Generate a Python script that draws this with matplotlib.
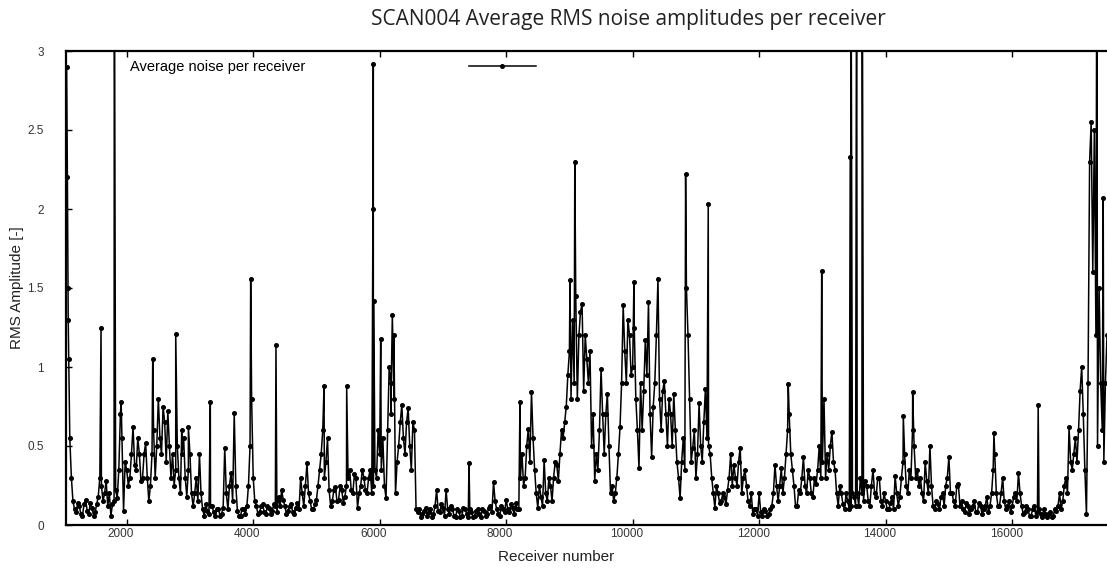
import numpy as np
import matplotlib
matplotlib.use("Agg")
import matplotlib.pyplot as plt
import matplotlib.transforms as mtransforms

# receiver grid every 50 receivers
band_rx = np.arange(1050, 17501, 50)
band_rms = [
    2.9, 0.55, 0.15, 0.08, 0.12, 0.06, 0.16, 0.07, 0.11, 0.08,
    0.18, 0.25, 0.2, 0.12, 0.06, 0.15, 0.17, 0.7, 0.09, 0.35,
    0.3, 0.62, 0.35, 0.45, 0.3, 0.52, 0.15, 0.45, 0.3, 0.8,
    0.45, 0.65, 0.72, 0.3, 0.25, 0.5, 0.2, 0.55, 0.18, 0.45,
    0.12, 0.3, 0.45, 0.1, 0.13, 0.07, 0.12, 0.06, 0.1, 0.07,
    0.49, 0.1, 0.33, 0.71, 0.09, 0.06, 0.1, 0.12, 0.5, 0.3,
    0.12, 0.08, 0.13, 0.07, 0.11, 0.09, 0.12, 0.18, 0.22, 0.12,
    0.09, 0.13, 0.07, 0.14, 0.3, 0.12, 0.39, 0.15, 0.1, 0.16,
    0.35, 0.6, 0.4, 0.22, 0.15, 0.24, 0.16, 0.22, 0.18, 0.3,
    0.22, 0.32, 0.11, 0.25, 0.3, 0.2, 0.35, 0.25, 0.3, 0.45,
    0.55, 0.17, 1.0, 1.33, 0.2, 0.5, 0.76, 0.45, 0.74, 0.35,
    0.6, 0.08, 0.05, 0.09, 0.06, 0.1, 0.07, 0.22, 0.08, 0.11,
    0.22, 0.07, 0.1, 0.05, 0.09, 0.06, 0.1, 0.05, 0.08, 0.06,
    0.1, 0.05, 0.09, 0.07, 0.12, 0.27, 0.1, 0.06, 0.1, 0.16,
    0.08, 0.11, 0.14, 0.1, 0.45, 0.3, 0.61, 0.84, 0.35, 0.11,
    0.18, 0.41, 0.15, 0.25, 0.3, 0.38, 0.45, 0.55, 0.75, 1.1,
    1.3, 1.45, 1.2, 1.4, 1.2, 0.9, 0.5, 0.28, 0.35, 0.99,
    0.45, 0.83, 0.2, 0.15, 0.3, 0.62, 1.39, 0.9, 1.2, 1.0,
    0.8, 0.36, 0.6, 1.17, 1.41, 0.43, 0.9, 1.56, 0.6, 0.91,
    0.5, 0.7, 0.83, 0.4, 0.17, 0.55, 1.5, 0.8, 0.49, 0.3,
    0.77, 0.4, 0.86, 0.5, 0.3, 0.11, 0.2, 0.15, 0.18, 0.22,
    0.45, 0.38, 0.25, 0.49, 0.3, 0.25, 0.12, 0.07, 0.1, 0.2,
    0.06, 0.09, 0.07, 0.12, 0.38, 0.15, 0.36, 0.3, 0.6, 0.45,
    0.25, 0.12, 0.2, 0.43, 0.2, 0.3, 0.18, 0.26, 0.5, 0.4,
    0.3, 0.35, 0.59, 0.35, 0.12, 0.2, 0.1, 0.15, 0.12, 0.18,
    0.2, 0.3, 0.15, 0.25, 0.12, 0.35, 0.18, 0.3, 0.12, 0.15,
    0.1, 0.18, 0.31, 0.12, 0.3, 0.45, 0.2, 0.3, 0.5, 0.35,
    0.3, 0.15, 0.28, 0.5, 0.12, 0.15, 0.1, 0.2, 0.25, 0.43,
    0.2, 0.12, 0.26, 0.15, 0.08, 0.12, 0.1, 0.15, 0.08, 0.12,
    0.1, 0.18, 0.12, 0.35, 0.2, 0.12, 0.3, 0.1, 0.15, 0.12,
    0.2, 0.33, 0.12, 0.08, 0.1, 0.06, 0.12, 0.08, 0.07, 0.1,
    0.05, 0.08, 0.06, 0.09, 0.2, 0.15, 0.3, 0.62, 0.35, 0.55,
    0.6, 1.0, 0.35, 0.9, 2.55, 2.5, 0.5, 0.9, 0.4, 1.2,
]

# in-between receivers (offset by 25), fill the dense band
mid_rx = np.arange(1075, 17476, 50)
mid_rms = [
    1.3, 0.3, 0.1, 0.14, 0.07, 0.13, 0.09, 0.14, 0.06, 0.13,
    0.3, 0.15, 0.28, 0.2, 0.13, 0.22, 0.35, 0.55, 0.4, 0.25,
    0.45, 0.38, 0.55, 0.28, 0.45, 0.3, 0.25, 0.6, 0.5, 0.55,
    0.75, 0.4, 0.5, 0.45, 0.35, 0.3, 0.45, 0.3, 0.35, 0.2,
    0.2, 0.15, 0.2, 0.06, 0.09, 0.12, 0.08, 0.1, 0.06, 0.11,
    0.2, 0.25, 0.15, 0.25, 0.06, 0.1, 0.07, 0.25, 0.8, 0.15,
    0.07, 0.12, 0.08, 0.12, 0.07, 0.13, 0.08, 0.12, 0.16, 0.07,
    0.12, 0.08, 0.11, 0.1, 0.2, 0.25, 0.2, 0.1, 0.13, 0.25,
    0.45, 0.3, 0.55, 0.12, 0.22, 0.15, 0.25, 0.14, 0.25, 0.35,
    0.2, 0.3, 0.2, 0.35, 0.22, 0.3, 0.2, 0.35, 0.6, 0.35,
    0.25, 0.6, 0.9, 0.8, 0.4, 0.65, 0.55, 0.65, 0.5, 0.65,
    0.1, 0.1, 0.07, 0.11, 0.08, 0.05, 0.12, 0.09, 0.13, 0.06,
    0.1, 0.12, 0.06, 0.1, 0.05, 0.11, 0.07, 0.1, 0.05, 0.09,
    0.07, 0.1, 0.06, 0.11, 0.08, 0.15, 0.07, 0.12, 0.08, 0.1,
    0.13, 0.07, 0.1, 0.3, 0.25, 0.5, 0.4, 0.55, 0.2, 0.25,
    0.12, 0.2, 0.3, 0.15, 0.4, 0.28, 0.6, 0.65, 0.95, 0.8,
    0.9, 0.8, 1.35, 0.85, 1.05, 1.1, 0.7, 0.45, 0.6, 0.7,
    0.7, 0.5, 0.25, 0.2, 0.45, 0.9, 1.1, 1.3, 0.95, 1.25,
    0.6, 0.9, 0.85, 0.95, 0.7, 0.75, 1.2, 0.8, 0.85, 0.7,
    0.8, 0.5, 0.6, 0.3, 0.4, 0.35, 1.2, 0.4, 0.6, 0.45,
    0.5, 0.65, 0.55, 0.45, 0.2, 0.25, 0.14, 0.2, 0.13, 0.3,
    0.25, 0.3, 0.4, 0.2, 0.35, 0.15, 0.2, 0.1, 0.06, 0.08,
    0.1, 0.06, 0.1, 0.2, 0.25, 0.25, 0.2, 0.45, 0.7, 0.35,
    0.12, 0.22, 0.3, 0.25, 0.35, 0.2, 0.3, 0.35, 0.3, 0.8,
    0.45, 0.5, 0.4, 0.2, 0.25, 0.13, 0.2, 0.1, 0.2, 0.12,
    0.12, 0.2, 0.28, 0.15, 0.25, 0.2, 0.3, 0.15, 0.2, 0.1,
    0.14, 0.1, 0.2, 0.18, 0.4, 0.25, 0.35, 0.6, 0.3, 0.25,
    0.2, 0.4, 0.2, 0.25, 0.1, 0.13, 0.18, 0.12, 0.3, 0.2,
    0.15, 0.25, 0.12, 0.1, 0.14, 0.07, 0.12, 0.08, 0.14, 0.07,
    0.12, 0.08, 0.2, 0.45, 0.12, 0.2, 0.15, 0.12, 0.08, 0.18,
    0.15, 0.2, 0.07, 0.12, 0.06, 0.1, 0.06, 0.1, 0.05, 0.07,
    0.07, 0.05, 0.1, 0.12, 0.1, 0.25, 0.2, 0.4, 0.45, 0.4,
    0.85, 0.7, 0.07, 2.3, 1.6, 1.2, 1.5, 0.6, 0.9,
]

# single receivers that stick out of the band
spike_rx = [1062, 1071, 1083, 1594, 1804, 1912, 2411, 2775, 2870, 2975,
            3322, 3960, 4360, 5120, 5478, 5893, 5899, 5906, 6016, 6175,
            6225, 7412, 8218, 9009, 9085, 10020, 10837, 11195, 12460, 12989,
            13440, 13451, 13541, 13629, 14279, 14427, 15712, 16412, 17340, 17440]
spike_rms = [2.2, 1.5, 1.05, 1.25, 4.0, 0.78, 1.05, 1.21, 0.60, 0.62,
             0.78, 1.56, 1.14, 0.88, 0.88, 2.0, 2.92, 1.42, 1.18, 0.7,
             1.2, 0.39, 0.78, 1.55, 2.3, 1.54, 2.22, 2.03, 0.89, 1.61,
             2.33, 4.0, 4.0, 4.0, 0.69, 0.84, 0.58, 0.76, 4.0, 2.07]

rx = np.concatenate([band_rx, mid_rx, spike_rx])
rms = np.concatenate([band_rms, mid_rms, spike_rms])
order = np.argsort(rx, kind="stable")
rx = rx[order]
rms = rms[order]

plt.rcParams['font.family'] = ['Liberation Sans', 'DejaVu Sans']

fig = plt.figure(figsize=(11.07, 5.69), dpi=100)
ax = fig.add_axes([66 / 1107, 1 - 525 / 569, 1 - 66 / 1107, (525 - 51) / 569])

ax.plot(rx, rms, color='black', lw=1.1, marker='o', ms=2.6,
        label='Average noise per receiver')

ax.set_xlim(1040, 17500)
ax.set_ylim(0, 3)
ax.set_xticks([2000, 4000, 6000, 8000, 10000, 12000, 14000, 16000])
ax.set_yticks([0, 0.5, 1, 1.5, 2, 2.5, 3])
ax.set_yticklabels(['0', '0.5', '1', '1.5', '2', '2.5', '3'])

ax.tick_params(axis='x', direction='in', top=True, length=4, width=1,
               labelsize=8.5, labelcolor='#333333', pad=2)
ax.tick_params(axis='y', direction='in', length=4, width=1,
               labelsize=8.5, labelcolor='#333333', pad=16)
for s in ['left', 'bottom', 'top']:
    ax.spines[s].set_linewidth(1.6)
ax.spines['right'].set_visible(False)

# tick labels sit a little left of their tick marks in the original
offset = mtransforms.ScaledTranslation(-6 / 100, 0, fig.dpi_scale_trans)
for lab in ax.get_xticklabels():
    lab.set_transform(lab.get_transform() + offset)

ax.legend(loc='center left', bbox_to_anchor=((130 - 66) / 1041, (525 - 67) / 474),
          frameon=False, markerfirst=False, handlelength=4.6, handletextpad=11.2,
          borderpad=0, borderaxespad=0, fontsize=10.5, numpoints=1)

fig.text(628 / 1107, 1 - 20 / 569, 'SCAN004 Average RMS noise amplitudes per receiver',
         ha='center', va='center', fontsize=15, family='Open Sans', color='#222222')
fig.text(556 / 1107, 1 - 557 / 569, 'Receiver number', ha='center', va='center',
         fontsize=11, color='#222222')
fig.text(17 / 1107, 1 - 288 / 569, 'RMS Amplitude [-]', ha='center', va='center',
         rotation=90, fontsize=11, color='#222222')

fig.savefig('out.png', dpi=100)
